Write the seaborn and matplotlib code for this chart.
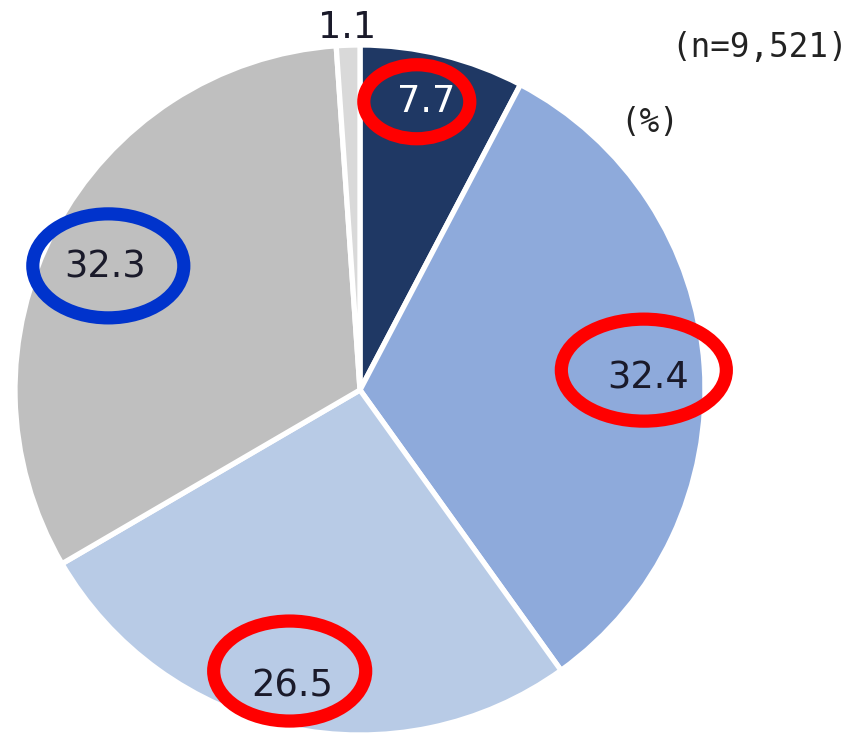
import numpy as np
import matplotlib
matplotlib.use("Agg")
import matplotlib.pyplot as plt
from matplotlib.patches import Ellipse
import seaborn as sns

# Share of respondents (%), clockwise from 12 o'clock
values = [7.7, 32.4, 26.5, 32.3, 1.1]
value_labels = ["7.7", "32.4", "26.5", "32.3", "1.1"]
colors = ["#1f3864", "#8eaadb", "#b8cbe6", "#bfbfbf", "#d9d9d9"]
label_colors = ["white", "#1a1a2a", "#1a1a2a", "#1a1a2a", "#1a1a2a"]
# label placement: radius as a fraction of the pie radius, angular nudge (deg)
label_radius = [0.857, 0.835, 0.88, 0.82, 1.052]
label_nudge = [1.0, -1.6, -0.75, 2.1, 0.0]
# emphasised labels: ring colour, ring size (px), ring centre offset from label (px)
highlights = {
    0: ("#ff0000", 106, 74, -9, 0),
    1: ("#ff0000", 165, 102, -4, -8),
    2: ("#ff0000", 152, 100, -3, -15),
    3: ("#0033cc", 151, 104, 3, -1),
}
sample_note = "(n=9,521)"
unit_note = "(%)"

W, H = 857, 733
sns.set_theme(style="white")
plt.rcParams["font.family"] = ["DejaVu Sans"]

fig = plt.figure(figsize=(W / 100, H / 100), dpi=100)
ax = fig.add_axes([0, 0, 1, 1])

cx, cy, R = 360, H - 390, 345
wedges, _ = ax.pie(
    values,
    colors=colors,
    startangle=90,
    counterclock=False,
    center=(cx, cy),
    radius=R,
    wedgeprops=dict(edgecolor="white", linewidth=3.8),
)
ax.set_xlim(0, W)
ax.set_ylim(0, H)
ax.set_aspect("equal")
ax.axis("off")

for i, w in enumerate(wedges):
    mid = np.deg2rad((w.theta1 + w.theta2) / 2 + label_nudge[i])
    r = R * label_radius[i]
    x = cx + r * np.cos(mid)
    y = cy + r * np.sin(mid)
    ax.text(x, y, value_labels[i], ha="center", va="center",
            fontsize=26.5, color=label_colors[i])
    if i in highlights:
        col, ew, eh, dx, dy = highlights[i]
        ax.add_patch(Ellipse((x + dx, y - dy), ew, eh, fill=False,
                             edgecolor=col, linewidth=9.5, zorder=5))

ax.text(848, H - 48, sample_note, ha="right", va="center", fontsize=23.5,
        color="#222222", family="DejaVu Sans Mono")
ax.text(650, H - 122, unit_note, ha="center", va="center", fontsize=23.5,
        color="#222222", family="DejaVu Sans Mono")

fig.savefig("out.png", dpi=100)
